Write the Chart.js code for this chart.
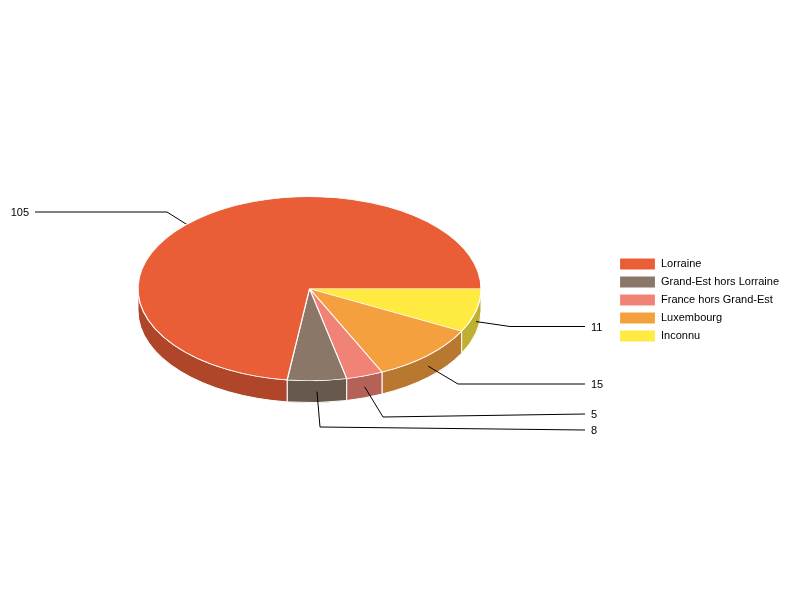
<!DOCTYPE html>
<html>
<head>
<meta charset="utf-8">
<script src="https://cdn.jsdelivr.net/npm/chart.js@4"></script>
<style>
  html, body { margin: 0; padding: 0; background: #fff; }
  canvas { display: block; }
</style>
</head>
<body>
<canvas id="pieChart" width="800" height="600"></canvas>
<script>
const categories = ["Lorraine", "Grand-Est hors Lorraine", "France hors Grand-Est", "Luxembourg", "Inconnu"];
const values = [105, 8, 5, 15, 11];
const topColors = ["#ea5e37", "#8a7768", "#f08375", "#f5a03e", "#ffea41"];
const sideColors = ["#b04629", "#68594e", "#b46258", "#b8782f", "#bfb031"];

// where each leader line bends and ends, same order as categories
const leaderBends = [[167, 212], [320, 427], [383, 417], [458, 384], [510, 326.5]];
const leaderEnds = [[35, 212], [585, 430], [585, 414], [585, 384], [585, 326.5]];

const pieX = 309.5;
const pieY = 288.7;
const pieRadius = 171.5;
const pieSquash = 92 / 171.5;
const pieDepth = 22;

// chart.js draws a flat pie clockwise, so the arrays are reversed for it
const piePlugin = {
  id: "pie3d",
  beforeDatasetsDraw(chart) {
    const ctx = chart.ctx;
    const arcs = chart.getDatasetMeta(0).data;
    const ry = pieRadius * pieSquash;

    // front wall of the pie
    ctx.save();
    ctx.strokeStyle = "#fff";
    ctx.lineWidth = 1;
    arcs.forEach((arc, i) => {
      const k = categories.length - 1 - i;
      const a = Math.max(arc.startAngle, 0);
      const b = Math.min(arc.endAngle, Math.PI);
      if (b <= a) return;
      ctx.fillStyle = sideColors[k];
      ctx.beginPath();
      ctx.ellipse(pieX, pieY, pieRadius, ry, 0, a, b);
      ctx.ellipse(pieX, pieY + pieDepth, pieRadius, ry, 0, b, a, true);
      ctx.closePath();
      ctx.fill();
      ctx.stroke();
    });
    ctx.restore();

    // leader lines start halfway down the wall, the top face covers the back one
    ctx.save();
    ctx.strokeStyle = "#000";
    ctx.lineWidth = 1;
    arcs.forEach((arc, i) => {
      const k = categories.length - 1 - i;
      const mid = (arc.startAngle + arc.endAngle) / 2;
      ctx.beginPath();
      ctx.moveTo(pieX + pieRadius * Math.cos(mid), pieY + ry * Math.sin(mid) + pieDepth / 2);
      ctx.lineTo(leaderBends[k][0], leaderBends[k][1]);
      ctx.lineTo(leaderEnds[k][0], leaderEnds[k][1]);
      ctx.stroke();
    });
    ctx.restore();

    // squash the flat pie into an ellipse
    const first = arcs[0];
    ctx.save();
    ctx.translate(pieX, pieY);
    ctx.scale(1, pieSquash);
    ctx.translate(-first.x, -first.y);
  },
  afterDatasetsDraw(chart) {
    const ctx = chart.ctx;
    ctx.restore();

    ctx.save();
    ctx.fillStyle = "#000";
    ctx.font = "11px 'Liberation Sans', Arial, sans-serif";
    ctx.textBaseline = "middle";
    values.forEach((v, k) => {
      const end = leaderEnds[k];
      const left = end[0] < pieX;
      ctx.textAlign = left ? "right" : "left";
      ctx.fillText(String(v), end[0] + (left ? -6 : 6), Math.round(end[1]) + 1);
    });
    ctx.restore();
  },
};

new Chart(document.getElementById("pieChart"), {
  type: "pie",
  plugins: [piePlugin],
  data: {
    labels: categories.slice().reverse(),
    datasets: [
      {
        data: values.slice().reverse(),
        backgroundColor: topColors.slice().reverse(),
        borderColor: "#fff",
        borderWidth: 1.2,
      },
    ],
  },
  options: {
    responsive: false,
    animation: false,
    rotation: 90,
    radius: pieRadius,
    layout: { padding: { right: 11 } },
    plugins: {
      tooltip: { enabled: false },
      legend: {
        position: "right",
        reverse: true,
        labels: {
          boxWidth: 36,
          boxHeight: 12,
          padding: 6,
          color: "#000",
          font: { family: "'Liberation Sans', Arial, sans-serif", size: 11 },
        },
      },
    },
  },
});
</script>
</body>
</html>
